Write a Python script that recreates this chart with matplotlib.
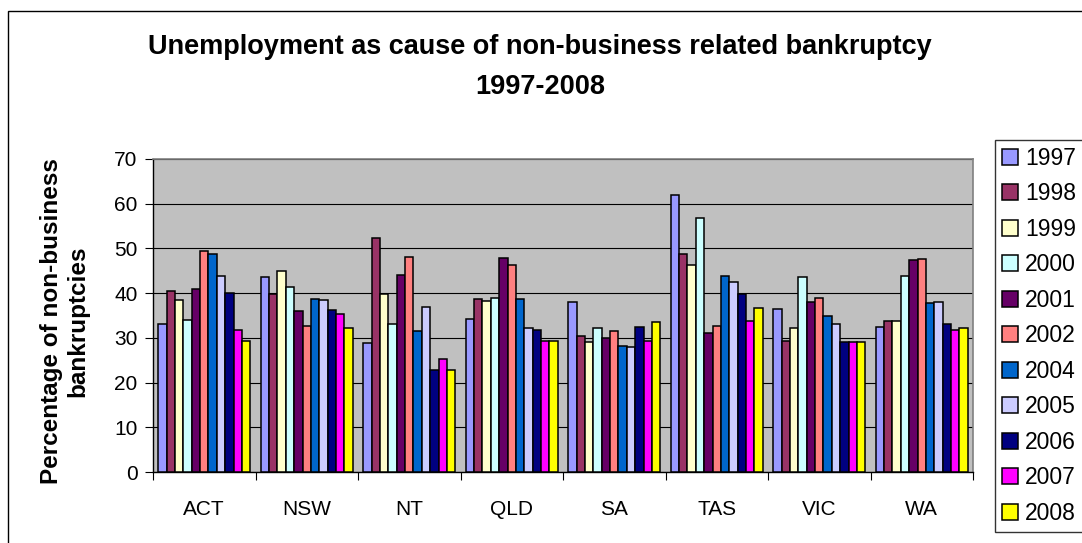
import numpy as np
import matplotlib.pyplot as plt
from matplotlib.patches import Rectangle

plt.rcParams['font.family'] = ['Liberation Sans', 'DejaVu Sans']

regiones = ['ACT', 'NSW', 'NT', 'QLD', 'SA', 'TAS', 'VIC', 'WA']
anios = ['1997', '1998', '1999', '2000', '2001', '2002', '2004', '2005', '2006', '2007', '2008']

# valores por region, en el orden de los anios
act = [33.0, 40.5, 38.5, 34.0, 41.0, 49.5, 48.7, 43.8, 40.0, 31.8, 29.3]
nsw = [43.7, 39.7, 45.0, 41.3, 36.0, 32.7, 38.8, 38.5, 36.3, 35.3, 32.2]
nt = [28.8, 52.3, 39.8, 33.1, 44.0, 48.0, 31.5, 37.0, 22.8, 25.2, 22.8]
qld = [34.2, 38.7, 38.2, 39.0, 47.8, 46.3, 38.7, 32.3, 31.8, 29.3, 29.2]
sa = [38.0, 30.5, 29.0, 32.3, 30.0, 31.5, 28.2, 28.0, 32.5, 29.2, 33.5]
tas = [62.0, 48.8, 46.3, 56.8, 31.0, 32.7, 43.8, 42.5, 39.8, 33.8, 36.7]
vic = [36.5, 29.3, 32.3, 43.5, 38.0, 39.0, 35.0, 33.0, 29.0, 29.0, 29.0]
wa = [32.5, 33.8, 33.8, 43.8, 47.5, 47.7, 37.8, 38.0, 33.0, 31.8, 32.2]

colores = ['#9999FF', '#993366', '#FFFFCC', '#CCFFFF', '#660066', '#FF8080',
           '#0066CC', '#CCCCFF', '#000080', '#FF00FF', '#FFFF00']

datos = np.array([act, nsw, nt, qld, sa, tas, vic, wa])

fig = plt.figure(figsize=(10.82, 5.43), dpi=100)
fig.patches.append(Rectangle((8 / 1082, -0.1), 1.2, 1 - 11 / 543 + 0.1,
                             transform=fig.transFigure, fill=False,
                             edgecolor='black', linewidth=1.0))

ax = fig.add_axes([153 / 1082, 1 - 472 / 543, 820 / 1082, 313 / 543])
ax.set_facecolor('#C0C0C0')

x = np.arange(len(regiones))
n = len(anios)
ancho = 0.9 / n
for i in range(n):
    ax.bar(x - 0.45 + ancho * (i + 0.5), datos[:, i], width=ancho,
           color=colores[i], edgecolor='black', linewidth=1.1,
           label=anios[i], zorder=3)

ax.set_xlim(-0.5, len(regiones) - 0.5)
ax.set_ylim(0, 70)
ax.set_yticks(np.arange(0, 71, 10))
ax.yaxis.grid(True, color='black', linewidth=0.8, zorder=1)
ax.set_xticks(x)
ax.set_xticklabels(regiones)
ax.set_xticks(np.arange(-0.5, len(regiones)), minor=True)
ax.tick_params(axis='x', which='major', length=0, pad=20, labelsize=15)
ax.tick_params(axis='x', which='minor', length=6, width=0.8, direction='out')
ax.tick_params(axis='y', length=6, width=0.8, labelsize=15, pad=5)

for s in ['top', 'right']:
    ax.spines[s].set_color('#808080')
    ax.spines[s].set_linewidth(1.2)
for s in ['left', 'bottom']:
    ax.spines[s].set_color('black')
    ax.spines[s].set_linewidth(1.0)

ax.set_ylabel('Percentage of non-business\nbankruptcies', fontsize=17.5,
              fontweight='bold', linespacing=1.15)
ax.yaxis.set_label_coords(-0.078, 0.482)

fig.text(540 / 1082, 1 - 67 / 543,
         'Unemployment as cause of non-business related bankruptcy\n1997-2008',
         ha='center', va='center', fontsize=19.5, fontweight='bold',
         linespacing=1.7)

leg = fig.legend(loc='upper left', bbox_to_anchor=(995 / 1082, 1 - 140 / 543),
                 fontsize=16.5, frameon=True, fancybox=False,
                 handlelength=0.7, handleheight=0.7, handletextpad=0.3,
                 labelspacing=0.545, borderpad=0.3, borderaxespad=0)
leg.get_frame().set_edgecolor('black')
leg.get_frame().set_linewidth(1.0)

fig.savefig('out.png', dpi=100)
